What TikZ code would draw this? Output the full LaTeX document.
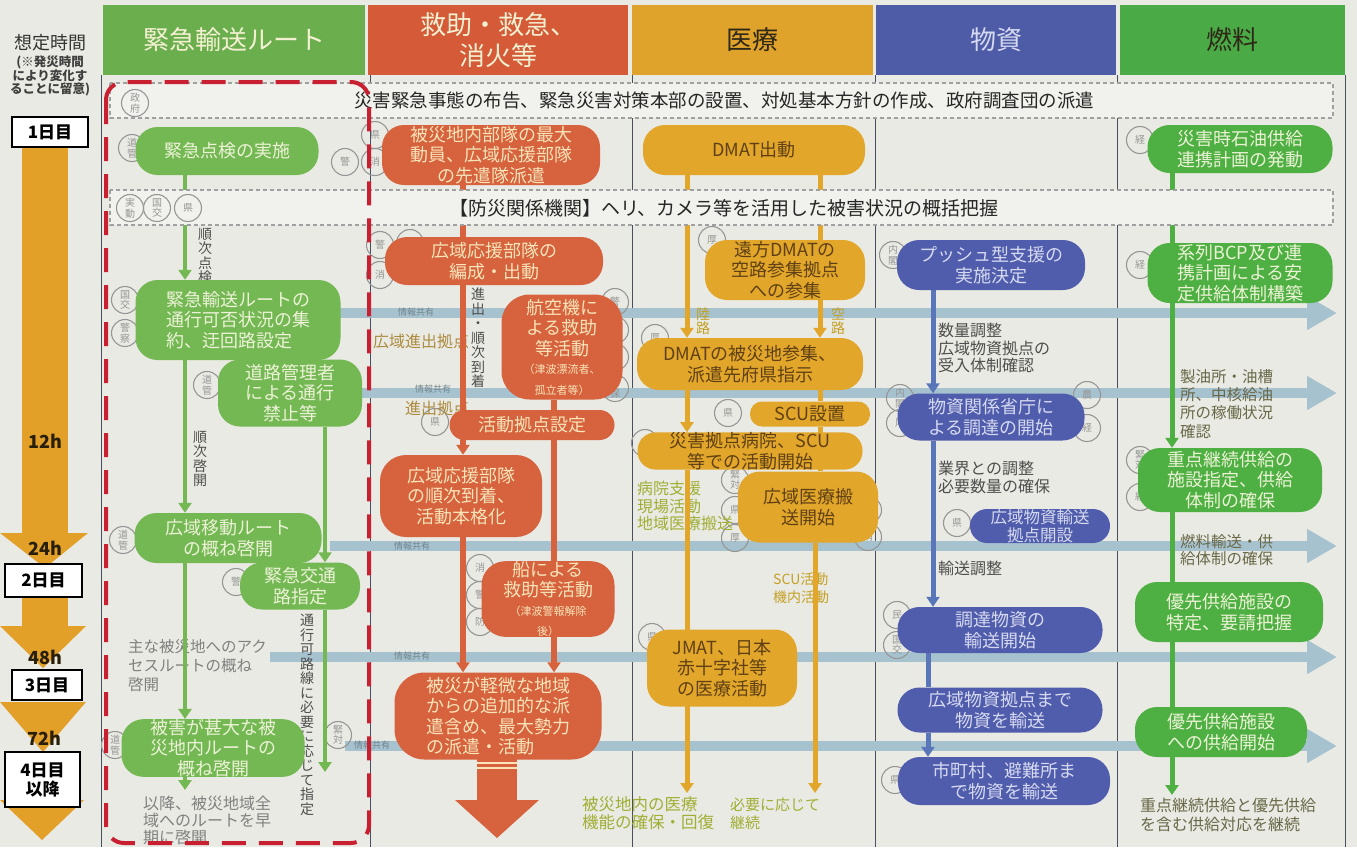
\documentclass[tikz,border=0pt]{standalone}
\usepackage{fontspec}
\setmainfont{Noto Sans CJK JP}
\usetikzlibrary{arrows.meta}
\definecolor{bgc}{RGB}{234,234,228}
\definecolor{bannerc}{RGB}{241,241,237}
\definecolor{hgreen}{RGB}{106,174,78}
\definecolor{hred}{RGB}{212,90,56}
\definecolor{hgold}{RGB}{223,162,42}
\definecolor{hblue}{RGB}{78,92,168}
\definecolor{hgreenb}{RGB}{74,170,70}
\definecolor{ngreen}{RGB}{116,184,84}
\definecolor{nred}{RGB}{214,98,62}
\definecolor{ngold}{RGB}{225,166,42}
\definecolor{nblue}{RGB}{80,92,172}
\definecolor{blinec}{RGB}{88,118,184}
\definecolor{ngreenb}{RGB}{78,176,66}
\definecolor{tlight}{RGB}{236,242,214}
\definecolor{tcream}{RGB}{248,228,184}
\definecolor{tbrown}{RGB}{96,64,20}
\definecolor{tbluel}{RGB}{214,218,240}
\definecolor{hcream}{RGB}{244,240,210}
\definecolor{hdark}{RGB}{46,40,24}
\definecolor{infoc}{RGB}{166,194,207}
\definecolor{infot}{RGB}{112,132,142}
\definecolor{cgray}{RGB}{150,150,150}
\definecolor{colline}{RGB}{70,78,96}
\definecolor{dashg}{RGB}{160,160,160}
\definecolor{redd}{RGB}{200,32,48}
\definecolor{orangec}{RGB}{226,160,40}
\definecolor{tanc}{RGB}{172,140,64}
\definecolor{yelc}{RGB}{196,160,36}
\definecolor{ygreen}{RGB}{160,174,52}
\definecolor{dgray}{RGB}{78,78,78}
\definecolor{olivec}{RGB}{104,104,72}
\definecolor{lgray}{RGB}{128,128,128}
\definecolor{hlabc}{RGB}{40,30,10}
\pgfdeclarelayer{back}
\pgfdeclarelayer{conn}
\pgfdeclarelayer{ban}
\pgfsetlayers{back,conn,ban,main}
\tikzset{
  nd/.style={rounded corners=22pt, inner sep=0pt, align=center, font=\fontsize{18}{20.5}\selectfont},
  gnode/.style={nd, fill=ngreen, text=tlight},
  rnode/.style={nd, fill=nred, text=tcream},
  onode/.style={nd, fill=ngold, text=tbrown},
  bnode/.style={nd, fill=nblue, text=tbluel},
  fnode/.style={nd, fill=ngreenb, text=tlight},
  hd/.style={inner sep=0pt, align=center, font=\fontsize{26}{31}\selectfont},
  cir/.style={circle, draw=cgray, line width=1.1pt, minimum size=27pt, inner sep=0pt, text=cgray, align=center, font=\fontsize{10}{10.5}\selectfont},
  arr/.style={-{Triangle[width=13pt,length=10pt]}},
  gline/.style={draw=ngreen, line width=4pt},
  rline/.style={draw=nred, line width=6pt},
  oline/.style={draw=ngold, line width=5pt},
  bline/.style={draw=blinec, line width=5pt},
  fline/.style={draw=ngreenb, line width=5pt},
  info/.style={draw=infoc, line width=10pt, -{Triangle[width=32pt,length=30pt]}},
  infolbl/.style={inner sep=0pt, text=infot, font=\fontsize{9}{9}\selectfont},
  ann/.style={inner sep=0pt, align=left, anchor=north west},
  vt/.style={inner sep=0pt, align=center, font=\fontsize{14}{14.5}\selectfont},
  daybox/.style={draw=black, line width=2pt, fill=white, inner sep=0pt, align=center, font=\bfseries\fontsize{17}{19}\selectfont},
  hlab/.style={inner sep=0pt, text=hlabc, font=\bfseries\fontsize{18}{18}\selectfont},
  banner/.style={draw=dashg, line width=1.2pt, dash pattern=on 4pt off 3pt, fill=bannerc},
}
\begin{document}
\begin{tikzpicture}[x=1pt,y=-1pt]
\useasboundingbox (0,0) rectangle (1357,847);

\begin{pgfonlayer}{back}
\fill[bgc] (0,0) rectangle (1357,847);
% column lines
\foreach \xx in {101,370,632,875,1117,1345} \draw[colline, line width=0.9pt] (\xx,75) -- (\xx,847);

% info rows
\coordinate (i1a) at (330,313); \coordinate (i1b) at (1337,313);
\coordinate (i2a) at (330,393); \coordinate (i2b) at (1337,393);
\coordinate (i3a) at (330,546); \coordinate (i3b) at (1337,546);
\coordinate (i4a) at (270,657); \coordinate (i4b) at (1337,657);
\coordinate (i5a) at (345,746); \coordinate (i5b) at (1337,746);
\draw[info] (i1a) -- (i1b);
\draw[info] (i2a) -- (i2b);
\draw[info] (i3a) -- (i3b);
\draw[info] (i4a) -- (i4b);
\draw[info] (i5a) -- (i5b);
\node[infolbl] (il1) at (416,312) {情報共有};
\node[infolbl] (il2) at (433,389) {情報共有};
\node[infolbl] (il3) at (412,546) {情報共有};
\node[infolbl] (il4) at (412,656) {情報共有};
\node[infolbl] (il5) at (372,745) {情報共有};

% circles
\node[cir] (c2) at (132,148) {道\\管};
\node[cir] (c3) at (345,162) {警};
\node[cir] (c7) at (125,300) {国\\交};
\node[cir] (c8) at (125,333) {警\\察};
\node[cir] (c9) at (207,385) {道\\管};
\node[cir] (c10) at (123,540) {道\\管};
\node[cir] (c11) at (236,582) {警};
\node[cir] (c12) at (115,745) {道\\管};
\node[cir] (c13) at (338,735) {緊\\対};
\node[cir] (c14) at (375,135) {県};
\node[cir] (c15) at (375,162) {消};
\node[cir] (c16) at (380,245) {警};
\node[cir] (c17) at (380,275) {消};
\node[cir] (c18) at (410,243) {防};
\node[cir] (c19) at (615,302) {警};
\node[cir] (c20) at (615,330) {消};
\node[cir] (c21) at (615,357) {防};
\node[cir] (c22) at (615,388) {海\\保};
\node[cir] (c23) at (435,422) {県};
\node[cir] (c24) at (480,568) {消};
\node[cir] (c25) at (480,595) {警};
\node[cir] (c26) at (480,622) {防};
\node[cir] (c27) at (657,148) {厚};
\node[cir] (c28) at (712,240) {厚};
\node[cir] (c29) at (655,338) {厚};
\node[cir] (c30) at (728,413) {県};
\node[cir] (c31) at (645,443) {県};
\node[cir] (c32) at (735,480) {緊\\対};
\node[cir] (c33) at (735,510) {県};
\node[cir] (c34) at (735,538) {厚};
\node[cir] (c35) at (868,510) {防};
\node[cir] (c36) at (868,537) {消};
\node[cir] (c37) at (652,637) {県};
\node[cir] (c38) at (893,255) {内\\閣};
\node[cir] (c39) at (900,398) {内\\閣};
\node[cir] (c40) at (900,423) {厚};
\node[cir] (c41) at (1087,395) {農};
\node[cir] (c42) at (1087,428) {経};
\node[cir] (c43) at (957,523) {県};
\node[cir] (c44) at (897,615) {民};
\node[cir] (c45) at (897,645) {国\\交};
\node[cir] (c46) at (895,780) {県};
\node[cir] (c47) at (1140,140) {経};
\node[cir] (c48) at (1140,265) {経};
\node[cir] (c49) at (1140,460) {緊\\対};
\node[cir] (c50) at (1140,497) {経};

% annotations
\node[vt, text=dgray] (t1) at (205,256) {順\\次\\点\\検};
\node[vt, text=dgray] (t2) at (200,459) {順\\次\\啓\\開};
\node[vt, text=dgray] (t3) at (307,715) {通\\行\\可\\路\\線\\に\\必\\要\\に\\応\\じ\\て\\指\\定};
\node[ann, text=lgray, font=\fontsize{15.5}{19}\selectfont] (t4) at (128,639) {主な被災地へのアク\\セスルートの概ね\\啓開};
\node[ann, text=lgray, font=\fontsize{16}{17}\selectfont] (t5) at (143,796) {以降、被災地域全\\域へのルートを早\\期に啓開};
\node[vt, text=dgray] (t6) at (478,338) {進\\出\\・\\順\\次\\到\\着};
\node[inner sep=0pt, text=tanc, font=\fontsize{16}{16}\selectfont] (t7) at (421,341) {広域進出拠点};
\node[inner sep=0pt, text=tanc, font=\fontsize{16}{16}\selectfont] (t8) at (437,408) {進出拠点};
\node[vt, text=yelc] (t9) at (703,321) {陸\\路};
\node[vt, text=yelc] (t10) at (838,321) {空\\路};
\node[ann, text=ygreen, font=\fontsize{16}{17.5}\selectfont] (t11) at (637,481) {病院支援\\現場活動\\地域医療搬送};
\node[ann, text=yelc, font=\fontsize{14}{18}\selectfont] (t12) at (773,573) {SCU活動\\機内活動};
\node[ann, text=ygreen, font=\fontsize{16.5}{18}\selectfont] (t13) at (582,796) {被災地内の医療\\機能の確保・回復};
\node[ann, text=ygreen, font=\fontsize{15}{18}\selectfont] (t14) at (730,798) {必要に応じて\\継続};
\node[ann, text=dgray, font=\fontsize{16}{17.5}\selectfont] (t15) at (938,323) {数量調整\\広域物資拠点の\\受入体制確認};
\node[ann, text=dgray, font=\fontsize{16}{18}\selectfont] (t16) at (938,461) {業界との調整\\必要数量の確保};
\node[ann, text=dgray, font=\fontsize{16}{18}\selectfont] (t17) at (938,561) {輸送調整};
\node[ann, text=olivec, font=\fontsize{15.5}{18.3}\selectfont] (t18) at (1180,369) {製油所・油槽\\所、中核給油\\所の稼働状況\\確認};
\node[ann, text=olivec, font=\fontsize{15.5}{17}\selectfont] (t19) at (1180,534) {燃料輸送・供\\給体制の確保};
\node[ann, text=olivec, font=\fontsize{16}{19}\selectfont] (t20) at (1140,798) {重点継続供給と優先供給\\を含む供給対応を継続};
\end{pgfonlayer}

% banners (above connectors)
\begin{pgfonlayer}{ban}
\draw[banner] (110,83) rectangle (1333,118);
\node[inner sep=0pt, text=black!85, font=\fontsize{18.5}{20}\selectfont] (bt1) at (724,101) {災害緊急事態の布告、緊急災害対策本部の設置、対処基本方針の作成、政府調査団の派遣};
\draw[banner] (110,190) rectangle (1333,225);
\node[inner sep=0pt, text=black!85, font=\fontsize{19}{20}\selectfont] (bt2) at (724,208) {【防災関係機関】ヘリ、カメラ等を活用した被害状況の概括把握};
\node[cir] (c1) at (135,103) {政\\府};
\node[cir] (c4) at (130,208) {実\\動};
\node[cir] (c5) at (157,208) {国\\交};
\node[cir] (c6) at (188,208) {県};
\end{pgfonlayer}

% headers
\node[hd, fill=hgreen, text=hcream, minimum width=262, minimum height=70] (h1) at (234,40) {緊急輸送ルート};
\node[hd, fill=hred, text=hcream, minimum width=260, minimum height=70] (h2) at (498,40) {救助・救急、\\消火等};
\node[hd, fill=hgold, text=hdark, minimum width=241, minimum height=70] (h3) at (752.5,40) {医療};
\node[hd, fill=hblue, text=tbluel, minimum width=240, minimum height=70] (h4) at (996,40) {物資};
\node[hd, fill=hgreenb, text=hdark, minimum width=225, minimum height=70] (h5) at (1232.5,40) {燃料};

% time column
\node[inner sep=0pt, text=black!80, font=\fontsize{18}{18}\selectfont] (tt1) at (50,43) {想定時間};
\node[inner sep=0pt, text=black!75, align=center, font=\bfseries\fontsize{12.5}{13.5}\selectfont] (tt2) at (50,76) {(※発災時間\\により変化す\\ることに留意)};
\fill[orangec] (22,148) rectangle (68,533);
\fill[orangec] (0,533) -- (88,533) -- (45,568) -- cycle;
\fill[orangec] (22,597) rectangle (68,626);
\fill[orangec] (0,626) -- (86,626) -- (43,668) -- cycle;
\fill[orangec] (0,702) -- (86,702) -- (43,752) -- cycle;
\fill[orangec] (0,800) -- (84,800) -- (42,840) -- cycle;
\node[daybox, minimum width=76, minimum height=30] (d1) at (50,132) {1日目};
\node[daybox, minimum width=77, minimum height=33] (d2) at (43.5,580) {2日目};
\node[daybox, minimum width=70, minimum height=30] (d3) at (47,685) {3日目};
\node[daybox, minimum width=75, minimum height=55] (d4) at (42.5,779.5) {4日目\\以降};
\node[hlab] (l12) at (45,441) {12h};
\node[hlab] (l24) at (45,548) {24h};
\node[hlab] (l48) at (45,657) {48h};
\node[hlab] (l72) at (44,738) {72h};

% column 1 nodes
\node[gnode, minimum width=183, minimum height=48] (n1) at (227,151) {緊急点検の実施};
\node[gnode, minimum width=205, minimum height=80, align=left] (n2) at (238,320) {緊急輸送ルートの\\通行可否状況の集\\約、迂回路設定};
\node[gnode, minimum width=144, minimum height=67] (n3) at (290,393) {道路管理者\\による通行\\禁止等};
\node[gnode, minimum width=187, minimum height=50] (n4) at (228,538) {広域移動ルート\\の概ね啓開};
\node[gnode, minimum width=120, minimum height=47] (n5) at (300,586) {緊急交通\\路指定};
\node[gnode, minimum width=183, minimum height=53] (n6) at (213,748) {被害が甚大な被\\災地内ルートの\\概ね啓開};

% column 2 nodes
\node[rnode, minimum width=218, minimum height=60] (r1) at (491,155) {被災地内部隊の最大\\動員、広域応援部隊\\の先遣隊派遣};
\node[rnode, minimum width=218, minimum height=48] (r2) at (494,261) {広域応援部隊の\\編成・出動};
\node[rnode, minimum width=121, minimum height=105, rounded corners=28pt] (r3) at (562,347) {航空機に\\よる救助\\等活動\\[-2pt]\fontsize{11}{12}\selectfont （津波漂流者、\\\fontsize{11}{12}\selectfont 孤立者等）};
\node[rnode, minimum width=165, minimum height=30, rounded corners=15pt] (r4) at (532,425) {活動拠点設定};
\node[rnode, minimum width=162, minimum height=82, rounded corners=26pt] (r5) at (461,496) {広域応援部隊\\の順次到着、\\活動本格化};
\node[rnode, minimum width=133, minimum height=72, rounded corners=24pt] (r6) at (548,599) {船による\\救助等活動\\[-2pt]\fontsize{11}{12}\selectfont （津波警報解除\\\fontsize{11}{12}\selectfont 後）};
\node[rnode, minimum width=207, minimum height=87, rounded corners=30pt, align=left] (r8) at (498,716) {被災が軽微な地域\\からの追加的な派\\遣含め、最大勢力\\の派遣・活動};
\fill[nred] (477,758) rectangle (517,801);
\fill[nred] (455,800) -- (539,800) -- (497,838) -- cycle;
\draw[tcream, line width=1.3pt] (477,763) -- (517,763);
\draw[tcream, line width=1.3pt] (477,768) -- (517,768);

% column 3 nodes
\node[onode, minimum width=222, minimum height=50] (o1) at (754,150) {DMAT出動};
\node[onode, minimum width=160, minimum height=60] (o2) at (785,270) {遠方DMATの\\空路参集拠点\\への参集};
\node[onode, minimum width=226, minimum height=52] (o3) at (750,364) {DMATの被災地参集、\\派遣先府県指示};
\node[onode, minimum width=120, minimum height=25, rounded corners=12pt] (o4) at (810,414) {SCU設置};
\node[onode, minimum width=225, minimum height=37, rounded corners=18pt] (o5) at (750,451) {災害拠点病院、SCU\\等での活動開始};
\node[onode, minimum width=140, minimum height=71] (o6) at (808,507) {広域医療搬\\送開始};
\node[onode, minimum width=150, minimum height=77] (o7) at (722,668) {JMAT、日本\\赤十字社等\\の医療活動};

% column 4 nodes
\node[bnode, minimum width=188, minimum height=50] (b1) at (991,265) {プッシュ型支援の\\実施決定};
\node[bnode, minimum width=187, minimum height=47] (b3) at (991,417) {物資関係省庁に\\よる調達の開始};
\node[bnode, minimum width=140, minimum height=34, rounded corners=17pt, font=\fontsize{16.5}{18}\selectfont] (b4) at (1040,526) {広域物資輸送\\拠点開設};
\node[bnode, minimum width=205, minimum height=46] (b5) at (1000,630) {調達物資の\\輸送開始};
\node[bnode, minimum width=205, minimum height=45] (b6) at (1000,710) {広域物資拠点まで\\物資を輸送};
\node[bnode, minimum width=212, minimum height=48] (b7) at (1004,781) {市町村、避難所ま\\で物資を輸送};

% column 5 nodes
\node[fnode, minimum width=185, minimum height=48] (f1) at (1240,149) {災害時石油供給\\連携計画の発動};
\node[fnode, minimum width=185, minimum height=60] (f2) at (1240,273) {系列BCP及び連\\携計画による安\\定供給体制構築};
\node[fnode, minimum width=184, minimum height=64] (f3) at (1230,480) {重点継続供給の\\施設指定、供給\\体制の確保};
\node[fnode, minimum width=188, minimum height=60] (f4) at (1229,612) {優先供給施設の\\特定、要請把握};
\node[fnode, minimum width=172, minimum height=50] (f5) at (1221,732) {優先供給施設\\への供給開始};

% connectors
\begin{pgfonlayer}{conn}
\coordinate (xa) at (185,0); \coordinate (xb) at (325,0);
\coordinate (xc) at (463,0); \coordinate (xd) at (554,0);
\coordinate (xf) at (687,0); \coordinate (xg) at (820,0); \coordinate (xh) at (815,0);
\coordinate (xi) at (933,0); \coordinate (xj) at (928,0); \coordinate (xk) at (1172,0);
\coordinate (e1) at (325,772); \coordinate (e2) at (185,790);
\coordinate (e3) at (687,793); \coordinate (e4) at (815,793);
\coordinate (e5) at (1172,795);
\draw[gline, arr] (n1.south -| xa) -- (n2.north -| xa);
\draw[gline, arr] (n2.south -| xa) -- (n4.north -| xa);
\draw[gline, arr] (n3.south -| xb) -- (n5.north -| xb);
\draw[gline, arr] (n4.south -| xa) -- (n6.north -| xa);
\draw[gline, arr] (n5.south -| xb) -- (e1);
\draw[gline, arr] (n6.south -| xa) -- (e2);
\draw[rline] (r1.south -| xc) -- (r2.north -| xc);
\draw[rline, arr] (r2.south -| xc) -- (r5.north -| xc);
\draw[rline] (r3.south -| xd) -- (r6.north -| xd);
\draw[rline, arr] (r5.south -| xc) -- (r8.north -| xc);
\draw[rline, arr] (r6.south -| xd) -- (r8.north -| xd);
\draw[oline, arr] (o1.south -| xf) -- (o3.north -| xf);
\draw[oline] (o1.south -| xg) -- (o2.north -| xg);
\draw[oline, arr] (o2.south -| xg) -- (o3.north -| xg);
\draw[oline, arr] (o3.south -| xf) -- (o5.north -| xf);
\draw[oline] (o3.south -| xg) -- (o4.north -| xg);
\draw[oline] (o4.south -| xg) -- (o6.north -| xg);
\draw[oline, arr] (o5.south -| xf) -- (e3);
\draw[oline, arr] (o6.south -| xh) -- (e4);
\draw[bline, arr] (b1.south -| xi) -- (b3.north -| xi);
\draw[bline, arr] (b3.south -| xi) -- (b5.north -| xi);
\draw[bline] (b5.south -| xj) -- (b6.north -| xj);
\draw[bline, arr] (b6.south -| xj) -- (b7.north -| xj);
\draw[fline] (f1.south -| xk) -- (f2.north -| xk);
\draw[fline, arr] (f2.south -| xk) -- (f3.north -| xk);
\draw[fline] (f3.south -| xk) -- (f4.north -| xk);
\draw[fline] (f4.south -| xk) -- (f5.north -| xk);
\draw[fline, arr] (f5.south -| xk) -- (e5);
\end{pgfonlayer}

% red dashed frame
\draw[redd, line width=4pt, dash pattern=on 24pt off 13pt, rounded corners=18pt] (106,82) rectangle (369,843);
\end{tikzpicture}
\end{document}
